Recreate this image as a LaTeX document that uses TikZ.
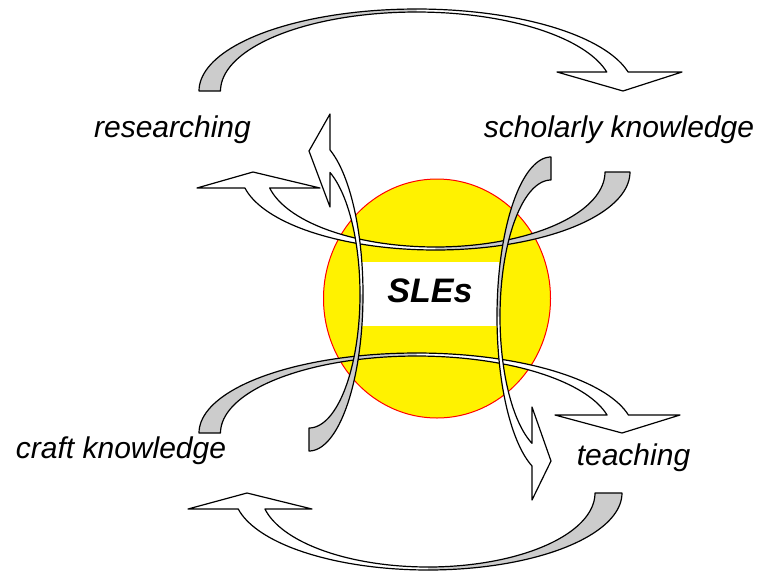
\documentclass[tikz,border=0pt]{standalone}
\usepackage{fontspec}
\setmainfont{Liberation Sans}
\definecolor{bandgray}{HTML}{CCCCCC}
\begin{document}
\begin{tikzpicture}[x=1pt,y=-1pt,samples=80,
  band/.style={draw=black,line width=1.2pt,line join=round},
  lab/.style={font=\fontsize{30}{36}\selectfont\itshape,anchor=base,inner sep=0pt}]
\useasboundingbox (0,0) rectangle (758,574);
\fill[white] (0,0) rectangle (758,574);
% centre
\draw[red,fill=yellow,line width=1pt] (437,298.5) ellipse [x radius=113.5,y radius=119.5];
\fill[white] (360,262) rectangle (499,326);
\node[font=\fontsize{34}{40}\selectfont\bfseries\itshape,anchor=base,inner sep=0pt] (sles) at (430,302) {SLEs};
% labels
\node[lab] (researching) at (172.5,137) {researching};
\node[lab] (scholarly) at (619,137) {scholarly knowledge};
\node[lab] (craft) at (121,458) {craft knowledge};
\node[lab] (teaching) at (633.5,465) {teaching};
% A1 top curved-down arrow
\path[save path=\pOne] plot[domain=180:13.4] ({416.5+217.5*cos(\x)},{91-82*sin(\x)})
  -- (682,72) -- (623,91) -- (557,72)
  -- plot[domain=13.9:180] ({416.5+196*cos(\x)},{91-79*sin(\x)}) -- cycle;
\fill[white,use path=\pOne];
\fill[bandgray] plot[domain=180:90] ({416.5+217.5*cos(\x)},{91-82*sin(\x)})
  -- plot[domain=90:180] ({416.5+196*cos(\x)},{91-79*sin(\x)}) -- cycle;
\draw[band,use path=\pOne];
% A4 lower curved-down arrow
\path[save path=\pFour] plot[domain=180:13.0] ({416.5+217.5*cos(\x)},{433-80*sin(\x)})
  -- (680,415) -- (622,433) -- (555,415)
  -- plot[domain=13.5:180] ({416.5+196*cos(\x)},{433-77*sin(\x)}) -- cycle;
\fill[white,use path=\pFour];
\fill[bandgray] plot[domain=180:90] ({416.5+217.5*cos(\x)},{433-80*sin(\x)})
  -- plot[domain=90:180] ({416.5+196*cos(\x)},{433-77*sin(\x)}) -- cycle;
\draw[band,use path=\pFour];
% A2 bottom curved-up arrow
\path[save path=\pTwo] plot[domain=360:192] ({428+194*cos(\x)},{493-77*sin(\x)})
  -- (188,509) -- (247,493) -- (312,509)
  -- plot[domain=192.5:360] ({428+167*cos(\x)},{493-74*sin(\x)}) -- cycle;
\fill[white,use path=\pTwo];
\fill[bandgray] plot[domain=360:270] ({428+194*cos(\x)},{493-77*sin(\x)})
  -- plot[domain=270:360] ({428+167*cos(\x)},{493-74*sin(\x)}) -- cycle;
\draw[band,use path=\pTwo];
% A3 upper curved-up arrow
\path[save path=\pThree] plot[domain=360:191.8] ({435.4+194.6*cos(\x)},{172-78*sin(\x)})
  -- (197,188) -- (253,172) -- (320,188)
  -- plot[domain=192.3:360] ({435.4+169.6*cos(\x)},{172-75*sin(\x)}) -- cycle;
\fill[white,use path=\pThree];
\fill[bandgray] plot[domain=360:270] ({435.4+194.6*cos(\x)},{172-78*sin(\x)})
  -- plot[domain=270:360] ({435.4+169.6*cos(\x)},{172-75*sin(\x)}) -- cycle;
\draw[band,use path=\pThree];
% A5 left vertical arrow
\path[save path=\pFive] plot[domain=-90:67.1] ({309+54*cos(\x)},{294.3-156.7*sin(\x)})
  -- (330,114) -- (309,151) -- (330,207)
  -- plot[domain=65.7:-90] ({309+51*cos(\x)},{294.3-133.7*sin(\x)}) -- cycle;
\fill[white,use path=\pFive];
\fill[bandgray] plot[domain=-90:0] ({309+54*cos(\x)},{294.3-156.7*sin(\x)})
  -- plot[domain=0:-90] ({309+51*cos(\x)},{294.3-133.7*sin(\x)}) -- cycle;
\draw[band,use path=\pFive];
% A6 right vertical arrow
\path[save path=\pSix] plot[domain=90:249.4] ({551+54*cos(\x)},{316.6-159.6*sin(\x)})
  -- (532,500) -- (551,461) -- (532,407)
  -- plot[domain=248.1:90] ({551+51*cos(\x)},{316.6-136.6*sin(\x)}) -- cycle;
\fill[white,use path=\pSix];
\fill[bandgray] plot[domain=90:180] ({551+54*cos(\x)},{316.6-159.6*sin(\x)})
  -- plot[domain=180:90] ({551+51*cos(\x)},{316.6-136.6*sin(\x)}) -- cycle;
\draw[band,use path=\pSix];
\end{tikzpicture}
\end{document}
